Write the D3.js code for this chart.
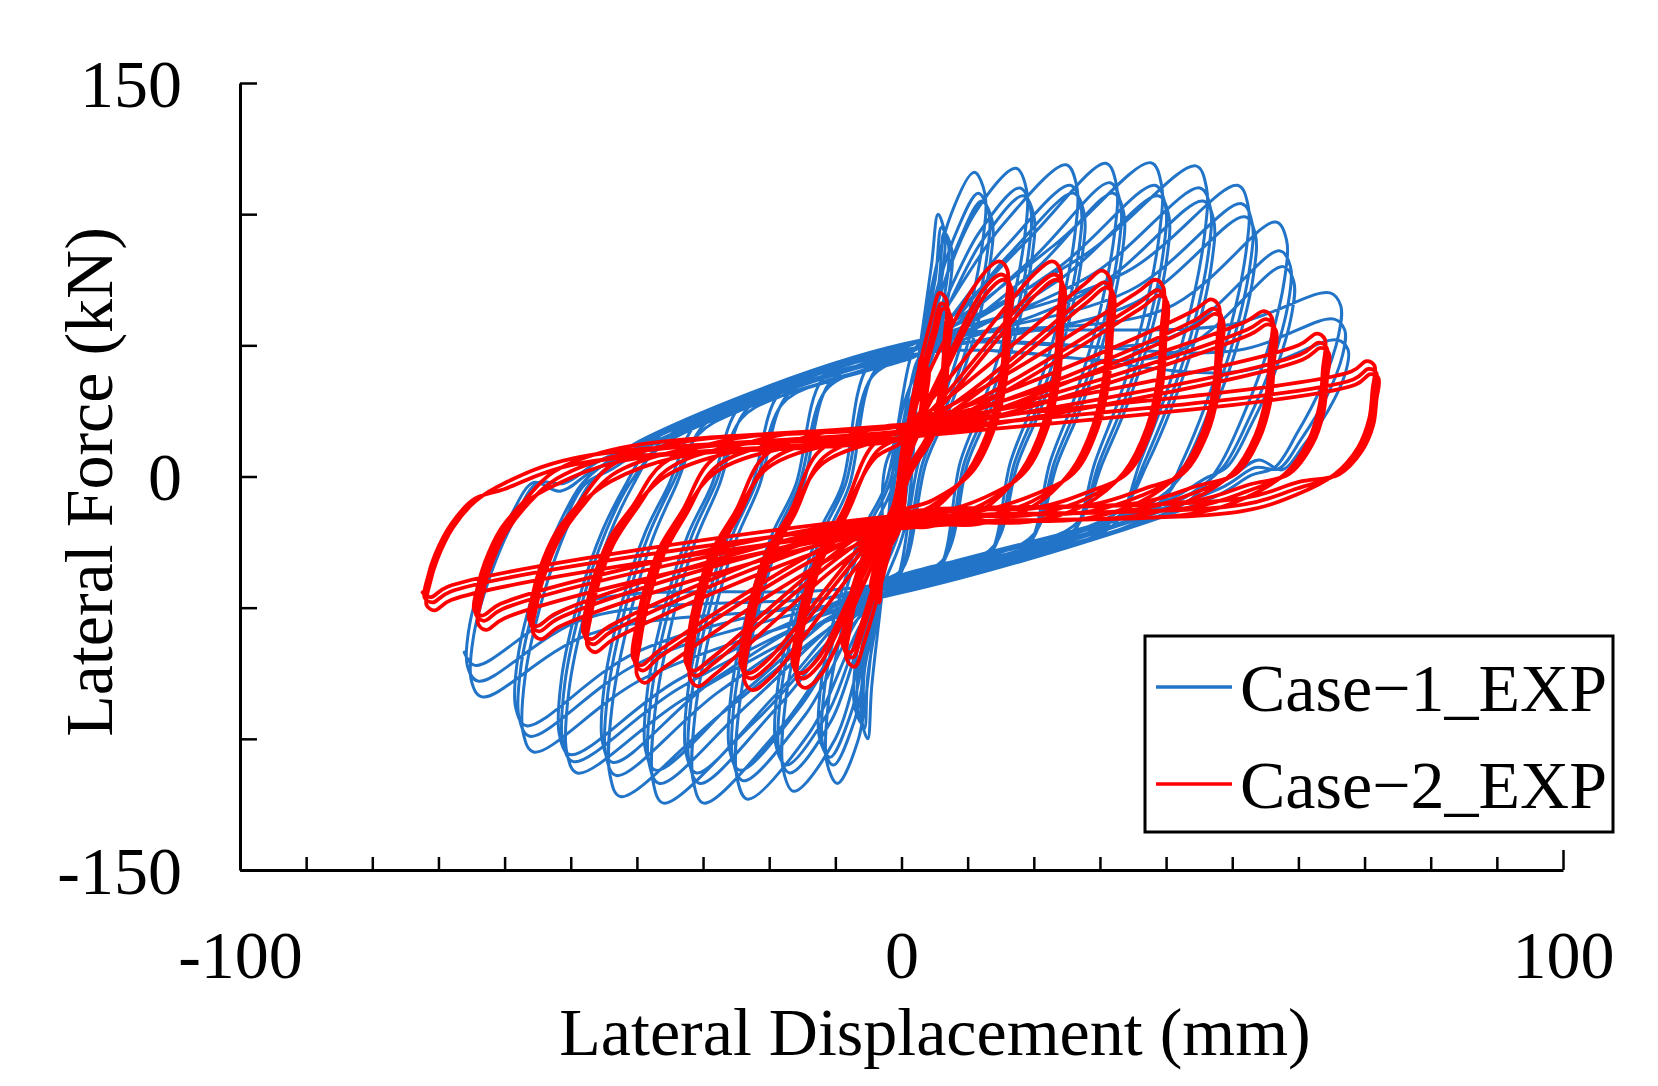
<!DOCTYPE html>
<html>
<head>
<meta charset="utf-8">
<script src="https://cdn.jsdelivr.net/npm/d3@7"></script>
<style>
  body { margin: 0; background: #fff; }
  svg { display: block; }
  text { font-family: "Liberation Serif", "Times New Roman", serif; fill: #000; }
</style>
</head>
<body>
<svg id="chart" width="1658" height="1086"></svg>
<script>
// ---------------- axis / tick data ----------------
const xTickValues = [-100,-90,-80,-70,-60,-50,-40,-30,-20,-10,0,10,20,30,40,50,60,70,80,90,100];
const xTickLabels = [-100, 0, 100];
const yTickValues = [-150,-100,-50,0,50,100,150];
const yTickLabels = [-150, 0, 150];
const seriesNames = ["Case\u22121_EXP", "Case\u22122_EXP"];

// ---------------- Case-1 (blue) ----------------
// peak displacement (mm) per amplitude level, peak force (kN) per cycle (3 cycles / level)
const case1PosDisp  = [6.5, 12.6, 18.9, 26.5, 32.5, 39.3, 46.1, 52.4, 58.2, 66.4];
const case1PosForce = [[100,95,93],[116,108,105],[117.5,110,107],[118.8,111,108],[119.4,112,108],
                       [119.6,111,107],[118.4,110,105],[111,104,99],[97,86,80],[70,60,52]];
const case1NegDisp  = [-6, -11.3, -17.9, -24.9, -31.5, -37.6, -44.1, -50.6, -57.2, -65.0];
const case1NegForce = [[-100,-96,-94],[-117,-110,-107],[-120,-113,-110],[-123,-116,-112],[-124.5,-117,-113],
                       [-124.5,-117,-112],[-122,-114,-109],[-113,-108.7,-106],[-105,-99,-95],[-84,-78,-72]];
// extra displacement reached by the 2nd / 3rd cycle of a level
const case1CycleShift = [0, 0.6, 1.1];
// point where the reloading line turns up toward the peak
const case1PosKnee  = [[4.5,80],[7.5,100],[11,100],[15,95],[19,90],[23,88],[28,85],[34,78],[40,64],[50,58]];
const case1NegKnee  = [[-4.5,-80],[-6.5,-100],[-10,-100],[-14,-98],[-18,-95],[-22,-93],[-27,-90],[-33,-85],[-39,-77],[-47,-60]];
// pinching points and slopes of the reloading bands
const case1PinchPos = [3, 52];
const case1PinchNeg = [-3, -46];
const case1UpperSlope = [0.62,0.65,0.68,0.71,0.74,0.77,0.80,0.83,0.86,0.89];
const case1LowerSlope = [0.58,0.60,0.62,0.64,0.66,0.68,0.70,0.72,0.74,0.76];
// unloading arcs: [dx, fraction of peak force]
const case1LeftArc   = [[0.3,0.75],[3,0.45],[6.5,0.2],[10,0.03]];
const case1LeftJoin  = [[14,-4],[20,0]];
const case1RightArc  = [[-0.3,0.8],[-3,0.5],[-6.5,0.25],[-10,0.05]];
const case1RightJoin = [[-13.5,4],[-19,0]];

// ---------------- Case-2 (red) ----------------
const case2PosDisp  = [3.5, 6.8, 16, 24, 31.5, 39.6, 48, 56, 64, 71.5];
const case2PosForce = [[45,43,42],[70,66,64],[82,77,75],[82,77,75],[78.5,74,72],
                       [75,71,69],[67.5,64,62],[63,60,58],[54.5,51,49],[44,41,39]];
const case2NegDisp  = [-4, -8.3, -15.8, -23.7, -32, -40, -47.5, -55.7, -64, -71.8];
const case2NegForce = [[-48,-45,-44],[-72.5,-69,-67],[-80.6,-77,-75],[-81.4,-77,-75],[-80,-76,-74],
                       [-78.7,-74,-72],[-67,-64,-62],[-62,-59,-57],[-58.5,-55,-53],[-51,-48,-46]];
const case2CycleShift = [0, 0.3, 0.6];
const case2PosKnee  = [[2.5,38],[4.5,60],[12,76],[20,77],[27.5,73],[35.5,70],[44,63],[52,59],[60,50],[68,40]];
const case2NegKnee  = [[-3,-40],[-5.5,-62],[-12,-75],[-19.5,-76],[-28,-75],[-36,-73],[-43.5,-62],[-51.5,-57],[-60,-54],[-68,-47]];
const case2PinchPos = [1, 20];
const case2PinchNeg = [-1, -20];
const case2UpperSlope = [0.25,0.25,0.24,0.24,0.23,0.23,0.22,0.22,0.21,0.21];
const case2LowerSlope = [0.16,0.16,0.15,0.15,0.15,0.14,0.14,0.14,0.13,0.13];
const case2LeftArc   = [[0.5,0.8],[1.6,0.62],[4,0.38],[7.5,0.18]];
const case2LeftJoin  = [[12,-7],[22,0]];
const case2RightArc  = [[-0.3,0.75],[-0.8,0.5],[-2.5,0.25],[-6,0.02]];
const case2RightJoin = [[-12,5],[-20,0]];

const series = [
  { name: seriesNames[0], color: "#2174c7", width: 3,
    posDisp: case1PosDisp, posForce: case1PosForce, negDisp: case1NegDisp, negForce: case1NegForce,
    cycleShift: case1CycleShift,
    posKnee: case1PosKnee, negKnee: case1NegKnee, pinchPos: case1PinchPos, pinchNeg: case1PinchNeg,
    upperSlope: case1UpperSlope, lowerSlope: case1LowerSlope,
    leftArc: case1LeftArc, leftJoin: case1LeftJoin, rightArc: case1RightArc, rightJoin: case1RightJoin,
    soft: 0.93, peakGap: 1.6 },
  { name: seriesNames[1], color: "#ff0000", width: 3.8,
    posDisp: case2PosDisp, posForce: case2PosForce, negDisp: case2NegDisp, negForce: case2NegForce,
    cycleShift: case2CycleShift,
    posKnee: case2PosKnee, negKnee: case2NegKnee, pinchPos: case2PinchPos, pinchNeg: case2PinchNeg,
    upperSlope: case2UpperSlope, lowerSlope: case2LowerSlope,
    leftArc: case2LeftArc, leftJoin: case2LeftJoin, rightArc: case2RightArc, rightJoin: case2RightJoin,
    soft: 0.96, peakGap: 1.2 }
];

// Build the loop sequence by joining the read key points of each cycle
function buildLoops(s) {
  const pts = [[0, 0]];
  let prevNeg = null;
  s.posDisp.forEach((D1, k) => {
    for (let c = 0; c < 3; c++) {
      const Dp = D1 + s.cycleShift[c];
      const Dn = s.negDisp[k] - s.cycleShift[c];
      const Pp = s.posForce[k][c], Pn = s.negForce[k][c];
      const dP = s.posForce[k][0] - Pp, dN = s.negForce[k][0] - Pn;
      // ---- positive half ----
      const pinchP = [s.pinchPos[0], s.pinchPos[1] - 2.5 * c];
      const kneeP = [s.posKnee[k][0] + s.cycleShift[c], s.posKnee[k][1] - dP];
      let lastX = 0;
      if (prevNeg) {
        const x0 = prevNeg.D, P0 = Math.abs(prevNeg.P);
        const cand = [];
        s.leftArc.forEach(r => cand.push([x0 + r[0], -P0 * r[1]]));
        s.leftJoin.forEach(r => {
          const xx = x0 + r[0];
          cand.push([xx, pinchP[1] + s.upperSlope[k] * (xx - pinchP[0]) + r[1]]);
        });
        cand.filter(p => p[0] < pinchP[0] - 0.3).forEach(p => pts.push(p));
        pts.push(pinchP);
        lastX = pinchP[0];
      }
      const dlP = Math.min(s.peakGap, 0.15 * Dp);
      if (kneeP[0] > lastX && kneeP[0] < Dp - dlP) pts.push(kneeP);
      pts.push([Dp - dlP, Pp]);
      pts.push([Dp, Pp * s.soft]);
      // ---- negative half ----
      const pinchN = [s.pinchNeg[0], s.pinchNeg[1] + 2.5 * c];
      const kneeN = [s.negKnee[k][0] - s.cycleShift[c], s.negKnee[k][1] - dN];
      const candN = [];
      s.rightArc.forEach(r => candN.push([Dp + r[0], Pp * s.soft * r[1] / 0.96]));
      s.rightJoin.forEach(r => {
        const xx = Dp + r[0];
        candN.push([xx, pinchN[1] + s.lowerSlope[k] * (xx - pinchN[0]) + r[1]]);
      });
      candN.filter(p => p[0] > pinchN[0] + 0.3).forEach(p => pts.push(p));
      pts.push(pinchN);
      const dlN = Math.min(s.peakGap, 0.15 * Math.abs(Dn));
      if (kneeN[0] < pinchN[0] && kneeN[0] > Dn + dlN) pts.push(kneeN);
      pts.push([Dn + dlN, Pn]);
      pts.push([Dn, Pn * s.soft]);
      prevNeg = { D: Dn, P: Pn * s.soft / 0.96 };
    }
  });
  return pts;
}

// ---------------- drawing ----------------
const svg = d3.select("#chart");
const x = d3.scaleLinear().domain([-100, 100]).range([240, 1563]);
const y = d3.scaleLinear().domain([-150, 150]).range([870, 83]);

const line = d3.line()
  .x(d => x(d[0])).y(d => y(d[1]))
  .curve(d3.curveCatmullRom.alpha(0.5));

const plot = svg.append("g");
series.forEach(s => {
  plot.append("path")
    .datum(buildLoops(s))
    .attr("d", line)
    .attr("fill", "none")
    .attr("stroke", s.color)
    .attr("stroke-width", s.width)
    .attr("stroke-linejoin", "round")
    .attr("stroke-linecap", "round");
});

// axes
const xAxis = d3.axisBottom(x)
  .tickValues(xTickValues)
  .tickSizeInner(-13).tickSizeOuter(0).tickPadding(60)
  .tickFormat(d => xTickLabels.includes(d) ? String(d) : "");
const gx = svg.append("g").attr("transform", "translate(0,870)").call(xAxis);

const yAxis = d3.axisLeft(y)
  .tickValues(yTickValues)
  .tickSizeInner(-17).tickSizeOuter(0).tickPadding(58)
  .tickFormat(d => yTickLabels.includes(d) ? String(d) : "");
const gy = svg.append("g").attr("transform", "translate(240,0)").call(yAxis);

[gx, gy].forEach(g => {
  g.attr("font-family", null).attr("font-size", null);
  g.select(".domain").attr("stroke", "#000").attr("stroke-width", 3);
  g.selectAll(".tick line").attr("stroke", "#000").attr("stroke-width", 2.5);
  g.selectAll(".tick text").attr("fill", "#000").style("font-size", "68px")
    .style("font-family", '"Liberation Serif", "Times New Roman", serif');
});
gx.selectAll(".tick line").filter(d => d === 100).attr("y2", -20);
gy.selectAll(".tick text").attr("dy", "0.34em");

// axis titles
svg.append("text")
  .attr("x", 935).attr("y", 1055)
  .attr("text-anchor", "middle")
  .style("font-size", "68px")
  .text("Lateral Displacement (mm)");

svg.append("text")
  .attr("transform", "translate(112,482) rotate(-90)")
  .attr("text-anchor", "middle")
  .style("font-size", "68px")
  .text("Lateral Force (kN)");

// legend
const lg = svg.append("g");
lg.append("rect")
  .attr("x", 1145).attr("y", 636).attr("width", 468).attr("height", 196)
  .attr("fill", "#fff").attr("stroke", "#000").attr("stroke-width", 3);
const legendRowsY = [687, 784];
series.forEach((s, i) => {
  lg.append("line")
    .attr("x1", 1156).attr("x2", 1232)
    .attr("y1", legendRowsY[i]).attr("y2", legendRowsY[i])
    .attr("stroke", s.color).attr("stroke-width", 3.5);
  lg.append("text")
    .attr("x", 1240).attr("y", legendRowsY[i] + 24)
    .style("font-size", "68px")
    .text(s.name);
});
</script>
</body>
</html>
